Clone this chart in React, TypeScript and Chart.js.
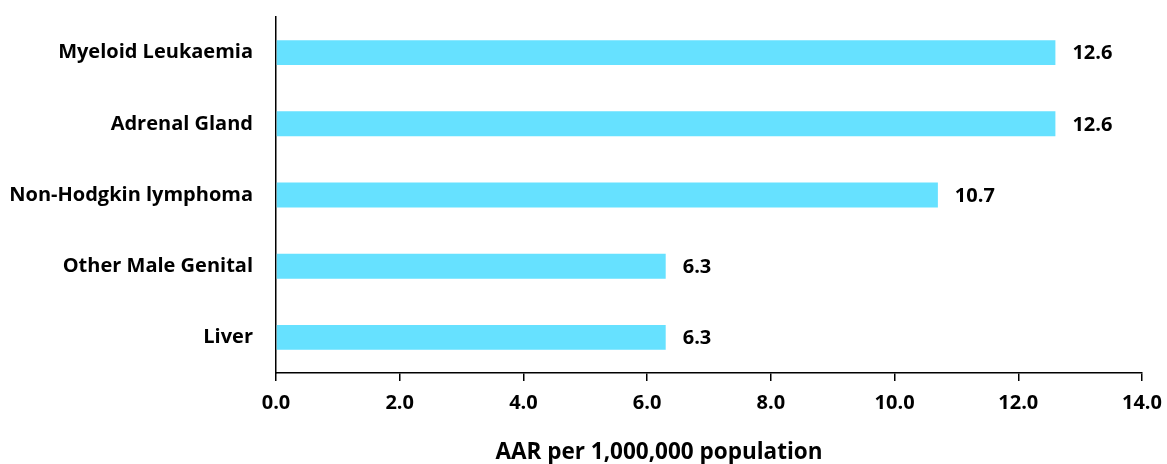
import React, { useEffect, useRef } from "react";
import { Chart, registerables } from "chart.js";

Chart.register(...registerables);

const categories = ["Myeloid Leukaemia", "Adrenal Gland", "Non-Hodgkin lymphoma", "Other Male Genital", "Liver"];
const values = [12.6, 12.6, 10.7, 6.3, 6.3];
const axisTitle = "AAR per 1,000,000 population";

const FONT = "'Open Sans'";
const SIZE = 20;
const TITLE_SIZE = 22.5;

export default function App() {
  const ref = useRef<HTMLCanvasElement | null>(null);
  useEffect(() => {
    document.body.style.margin = "0";
    const canvas = ref.current!;
    const labelPlugin = {
      id: "valueLabels",
      afterDatasetsDraw(chart: any) {
        const ctx = chart.ctx;
        ctx.save();
        ctx.font = `bold ${SIZE}px ${FONT}`;
        ctx.fillStyle = "#000";
        ctx.textBaseline = "middle";
        ctx.textAlign = "left";
        const meta = chart.getDatasetMeta(0);
        meta.data.forEach((bar: any, i: number) => {
          ctx.fillText(values[i].toFixed(1), bar.x + 17, bar.y + 1);
        });
        ctx.font = `bold ${TITLE_SIZE}px ${FONT}`;
        ctx.textAlign = "center";
        ctx.fillText(axisTitle, 659, 453);
        ctx.restore();
      },
    };
    const chart = new Chart(canvas, {
      type: "bar",
      data: {
        labels: categories,
        datasets: [
          {
            data: values,
            backgroundColor: "#66E1FF",
            barPercentage: 0.35,
            categoryPercentage: 1,
          },
        ],
      },
      options: {
        indexAxis: "y",
        animation: false,
        responsive: false,
        layout: { padding: { top: 17, right: 25, left: 0, bottom: 0 } },
        plugins: { legend: { display: false }, tooltip: { enabled: false } },
        scales: {
          x: {
            min: 0,
            max: 14,
            ticks: {
              stepSize: 2,
              color: "#000",
              font: { family: FONT, size: SIZE, weight: "bold" },
              padding: 10,
              callback: (v: any) => Number(v).toFixed(1),
            },
            grid: { drawOnChartArea: false, tickLength: 8, color: "#000", lineWidth: 1.5 },
            border: { display: true, color: "#000", width: 1.5 },
            afterFit: (s: any) => {
              s.height = 91;
              s.paddingLeft = 0;
              s.paddingRight = 0;
            },
          },
          y: {
            ticks: {
              color: "#000",
              font: { family: FONT, size: SIZE, weight: "bold" },
              padding: 0,
            },
            grid: { display: false, drawTicks: true, tickLength: 23 },
            border: { display: true, color: "#000", width: 1.5 },
            afterFit: (s: any) => {
              s.width = 276;
              s.paddingTop = 0;
              s.paddingBottom = 0;
            },
          },
        },
      },
      plugins: [labelPlugin],
    });
    return () => chart.destroy();
  }, []);
  return <canvas ref={ref} width={1167} height={464} style={{ display: "block" }} />;
}
